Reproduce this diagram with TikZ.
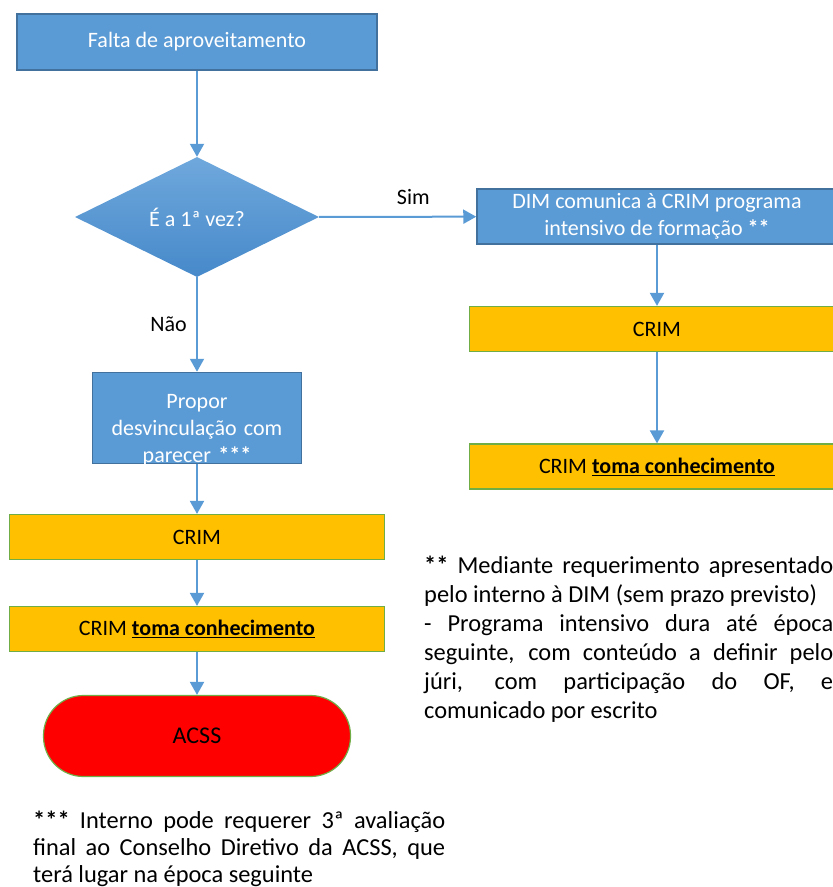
\documentclass[tikz,border=0pt]{standalone}
\usepackage{fontspec}
\setmainfont{Carlito}
\usepackage{tikz}
\usetikzlibrary{arrows.meta,positioning,shapes.geometric}
\definecolor{officeblue}{HTML}{5B9BD5}
\definecolor{blueborder}{HTML}{41719C}
\definecolor{crimyellow}{HTML}{FFC000}
\definecolor{crimgreen}{HTML}{70AD47}
\definecolor{qtop}{HTML}{6FA8DC}
\definecolor{qbottom}{HTML}{4689CA}

\begin{document}
\begin{tikzpicture}[x=1pt,y=-1pt,>={Triangle[length=13pt,width=14pt]},
  boxfont/.style={font=\fontsize{22}{27}\selectfont},
  bluebox/.style={draw=blueborder,line width=1.5pt,fill=officeblue,text=white,boxfont,inner sep=0pt,align=center},
  crimbox/.style={draw=crimgreen,line width=1.2pt,fill=crimyellow,text=black,boxfont,inner sep=0pt,minimum width=375pt,minimum height=45pt},
  endbox/.style={draw=crimgreen,line width=1.2pt,fill=red,text=black,font=\fontsize{24}{28}\selectfont,inner sep=0pt,minimum width=307pt,minimum height=81pt,rounded corners=40pt},
  flow/.style={->,draw=officeblue,line width=2pt},
  lbl/.style={boxfont,text=black},
  notebox/.style={font=\fontsize{24.4}{29}\selectfont,inner sep=0pt,align=justify,anchor=north west}]
\useasboundingbox (0,0) rectangle (833,887);
% left column
\node[bluebox,minimum width=209pt,minimum height=91pt,text width=200pt,inner ysep=-3pt] (propor) at (197,418) {\rule{0pt}{39pt}Propor\\desvinculação com\\parecer \textbf{***}};
\node[bluebox,minimum width=360pt,minimum height=56pt] (start) at (197,42) {Falta de aproveitamento};
\node[diamond,shading=axis,top color=qtop,bottom color=qbottom,text=white,boxfont,inner sep=0pt,minimum width=244pt,minimum height=120pt] (q) at (197,217) {É a 1ª vez?};
\node[crimbox] (crimL) at (197,537) {CRIM};
\node[crimbox] (tomaL) at (197,629) {CRIM \underline{\textbf{toma conhecimento}}};
\node[endbox] (acss) at (197,736) {ACSS};
% right column
\node[bluebox,minimum width=360pt,minimum height=55pt] (dim) at (657,216.5) {DIM comunica à CRIM programa\\intensivo de formação \textbf{**}};
\node[crimbox] (crimR) at (657,329) {CRIM};
\node[crimbox] (tomaR) at (657,466.5) {CRIM \underline{\textbf{toma conhecimento}}};
% connectors
\draw[flow] (start) -- (q);
\draw[flow] (q) -- node[lbl,above=8pt,pos=0.6] {Sim} (dim);
\draw[flow] (q) -- node[lbl,left=6pt] {Não} (propor);
\draw[flow] (propor) -- (crimL);
\draw[flow] (crimL) -- (tomaL);
\draw[flow] (tomaL) -- (acss);
\draw[flow] (dim) -- (crimR);
\draw[flow] (crimR) -- (tomaR);
% notes
\node[notebox,text width=409pt] (note2) at (424,556) {\textbf{**} Mediante requerimento apresentado pelo interno à DIM (sem prazo previsto)\par
- Programa intensivo dura até época\linebreak seguinte, com conteúdo a definir pelo\linebreak júri, com participação do OF, e\linebreak comunicado por escrito};
\node[notebox,text width=412pt,font=\fontsize{24.4}{27}\selectfont] (note3) at (33,811) {\textbf{***} Interno pode requerer 3ª avaliação\linebreak final ao Conselho Diretivo da ACSS, que\linebreak terá lugar na época seguinte};
\end{tikzpicture}
\end{document}
